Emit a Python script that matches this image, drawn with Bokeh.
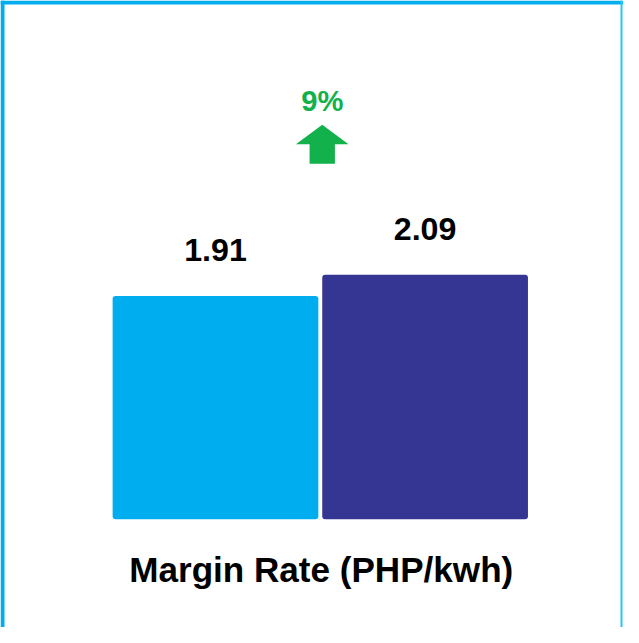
from bokeh.plotting import figure
from bokeh.models import Range1d, Span
from bokeh.core.properties import value
from bokeh.embed import file_html
from bokeh.resources import INLINE

# ---- data ----
categories = ["Previous", "Current"]
values = [1.91, 2.09]
labels = ["1.91", "2.09"]
bar_colors = ["#00AEEF", "#353594"]
change_label = "9%"
title_text = "Margin Rate (PHP/kwh)"

# ---- layout constants ----
W, H = 623, 627
K = W / 639.0                 # scale from reference pixel grid
SX = 215.0 * K                # pixels per x unit (bar spacing)
SY = 119.9 * K                # pixels per value unit
x_start = -220.5 / 215.0
x_end = x_start + W / SX
y_end = 532 / 119.9
y_start = y_end - H / SY

p = figure(width=W, height=H, x_range=Range1d(x_start, x_end),
           y_range=Range1d(y_start, y_end), x_axis_type=None, y_axis_type=None,
           output_backend="svg", toolbar_location=None,
           min_border=0, min_border_left=0, min_border_right=0,
           min_border_top=0, min_border_bottom=0)
p.grid.visible = False
p.outline_line_color = None
p.background_fill_color = "white"
p.border_fill_color = "white"

xs = list(range(len(values)))
p.vbar(x=xs, top=values, bottom=0, width=211 / 215.0, fill_color=bar_colors,
       line_color=None, border_radius=3)

p.text(x=xs, y=values, text=labels, text_align="center", text_baseline="alphabetic",
       y_offset=-47 * K, text_font=value("Liberation Sans"), text_font_style="bold",
       text_font_size=f"{33 * K:.1f}px", text_color="#000000")

# change arrow between bars, anchored above the tallest bar
ax = (xs[0] + xs[1]) / 2 + 2 / 215.0
ay = max(values)
arrow_px = [(0, 154), (27, 134), (13, 134), (13, 114), (-13, 114), (-13, 134), (-27, 134)]
p.patch(x=[ax + dx / 215.0 for dx, dy in arrow_px], y=[ay + dy / 119.9 for dx, dy in arrow_px],
        fill_color="#13B14B", line_color=None)
p.text(x=[ax], y=[ay], text=[change_label], text_align="center", text_baseline="alphabetic",
       y_offset=-178 * K, text_font=value("Liberation Sans"), text_font_style="bold",
       text_font_size=f"{30 * K:.1f}px", text_color="#13B14B")

# category title under bars
p.text(x=[(xs[0] + xs[1]) / 2 + 1 / 215.0], y=[0], text=[title_text], text_align="center",
       text_baseline="alphabetic", y_offset=52 * K, text_font=value("Liberation Sans"),
       text_font_style="bold", text_font_size=f"{36 * K:.1f}px", text_color="#000000")

# frame border (cropped box)
p.add_layout(Span(location=y_end - 2 / SY, dimension="width", line_color="#00AEEF", line_width=4))
p.add_layout(Span(location=x_start + 2 / SX, dimension="height", line_color="#00AEEF", line_width=4))
p.add_layout(Span(location=x_end - 2 / SX, dimension="height", line_color="#29C5F6", line_width=2))

open("out.html", "w").write(file_html(p, INLINE))
